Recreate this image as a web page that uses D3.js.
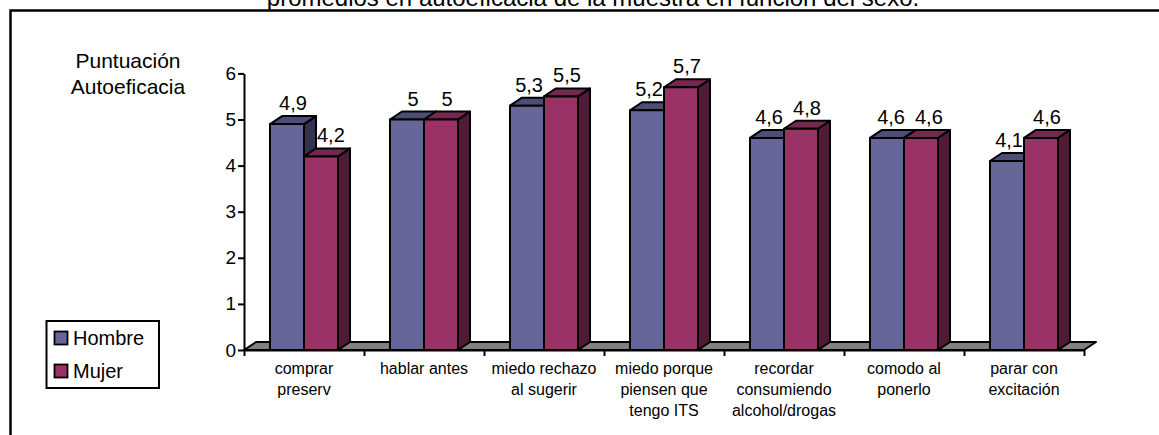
<!DOCTYPE html>
<html>
<head>
<meta charset="utf-8">
<script src="https://cdn.jsdelivr.net/npm/d3@7"></script>
<style>
  html, body { margin: 0; padding: 0; background: #fff; }
  svg { display: block; font-family: "Liberation Sans", Arial, sans-serif; }
</style>
</head>
<body>
<svg id="chart" width="1159" height="435"></svg>
<script>
// Self-efficacy scores by item and sex
const categoryLines = [
  ["comprar", "preserv"],
  ["hablar antes"],
  ["miedo rechazo", "al sugerir"],
  ["miedo porque", "piensen que", "tengo ITS"],
  ["recordar", "consumiendo", "alcohol/drogas"],
  ["comodo al", "ponerlo"],
  ["parar con", "excitación"]
];
const seriesNames = ["Hombre", "Mujer"];
const hombreValues = [4.9, 5.0, 5.3, 5.2, 4.6, 4.6, 4.1];
const mujerValues  = [4.2, 5.0, 5.5, 5.7, 4.8, 4.6, 4.6];
const yTicks = [0, 1, 2, 3, 4, 5, 6];
const titleText = "promedios en autoeficacia de la muestra en función del sexo.";
const yTitleLines = ["Puntuación", "Autoeficacia"];

const seriesValues = [hombreValues, mujerValues];
const colors = {
  Hombre: { front: "#666699", top: "#4d4d75", side: "#33334f" },
  Mujer:  { front: "#993366", top: "#74284f", side: "#4f1b36" }
};

const svg = d3.select("#chart");
const depthX = 12, depthY = -8;

// Outer frame
svg.append("rect")
  .attr("x", 10.5).attr("y", 10.5)
  .attr("width", 1170).attr("height", 450)
  .attr("fill", "none").attr("stroke", "#000").attr("stroke-width", 2.5);

// Title
svg.append("text")
  .attr("x", 593).attr("y", 6)
  .attr("text-anchor", "middle")
  .attr("font-size", 24)
  .text(titleText);

// Scales
const catIndex = d3.range(categoryLines.length);
const x0 = d3.scaleBand().domain(catIndex).range([244, 1084]).padding(0);
const bw = x0.bandwidth();
const groupW = bw * 0.5667;
const x1 = d3.scaleBand().domain(seriesNames)
  .range([(bw - groupW) / 2, (bw + groupW) / 2]).padding(0);
const xEdge = d3.scaleLinear().domain([0, categoryLines.length]).range([244, 1084]);
const y = d3.scaleLinear().domain([0, 6]).range([350, 73.4]);

// Floor
const floorPts = [
  [xEdge(0), y(0)], [xEdge(0) + depthX, y(0) + depthY],
  [xEdge(categoryLines.length) + depthX, y(0) + depthY], [xEdge(categoryLines.length), y(0)]
];
svg.append("polygon")
  .attr("points", floorPts.map(p => p.join(",")).join(" "))
  .attr("fill", "#808080").attr("stroke", "#000").attr("stroke-width", 2)
  .attr("stroke-linejoin", "round");

// Y axis
const yAxis = svg.append("g")
  .attr("transform", "translate(244,0)")
  .call(d3.axisLeft(y).tickValues(yTicks).tickFormat(d3.format("d"))
    .tickSize(6).tickSizeOuter(0).tickPadding(2));
yAxis.select(".domain").attr("stroke-width", 2);
yAxis.selectAll(".tick line").attr("stroke-width", 2);
yAxis.selectAll(".tick text").attr("font-size", 19).attr("font-family", null).attr("fill", "#000");

// X axis (category separators)
const xAxis = svg.append("g")
  .attr("transform", `translate(0,${y(0)})`)
  .call(d3.axisBottom(xEdge).tickValues(d3.range(categoryLines.length + 1))
    .tickFormat("").tickSize(6).tickSizeOuter(0));
xAxis.select(".domain").attr("stroke-width", 2);
xAxis.selectAll(".tick line").attr("stroke-width", 2);

// Bars (front, top and side faces)
const barsG = svg.append("g");
const barBoxes = [];
catIndex.forEach(ci => {
  barBoxes[ci] = {};
  seriesNames.forEach((s, si) => {
    const v = seriesValues[si][ci];
    const bx = x0(ci) + x1(s);
    const w = x1.bandwidth();
    const yt = y(v), yb = y(0);
    const c = colors[s];
    const g = barsG.append("g")
      .attr("stroke", "#000").attr("stroke-width", 2).attr("stroke-linejoin", "round");
    g.append("polygon")
      .attr("points", [[bx + w, yt], [bx + w + depthX, yt + depthY], [bx + w + depthX, yb + depthY], [bx + w, yb]].map(p => p.join(",")).join(" "))
      .attr("fill", c.side);
    g.append("polygon")
      .attr("points", [[bx, yt], [bx + depthX, yt + depthY], [bx + w + depthX, yt + depthY], [bx + w, yt]].map(p => p.join(",")).join(" "))
      .attr("fill", c.top);
    g.append("rect")
      .attr("x", bx).attr("y", yt).attr("width", w).attr("height", yb - yt)
      .attr("fill", c.front);
    barBoxes[ci][s] = { x0: bx, x1: bx + w + depthX, y0: yt + depthY };
  });
});

// Value labels, nudged sideways where they would sit on the neighbouring bar
const fmt = v => String(v).replace(".", ",");
const labelsG = svg.append("g").attr("font-size", 20).attr("text-anchor", "middle");
catIndex.forEach(ci => {
  const labs = seriesNames.map((s, si) => {
    const v = seriesValues[si][ci];
    const bx = x0(ci) + x1(s);
    const w = x1.bandwidth();
    const t = labelsG.append("text").text(fmt(v));
    const tw = t.node().getComputedTextLength();
    const base = y(v) + depthY - 6;
    return { t, tw, cx: bx + w / 2 + depthX / 2, base };
  });
  const [hl, ml] = labs;
  const hb = barBoxes[ci][seriesNames[0]], mb = barBoxes[ci][seriesNames[1]];
  if (hl.cx + hl.tw / 2 > mb.x0 && hl.base > mb.y0) hl.cx = mb.x0 - 1 - hl.tw / 2;
  if (ml.cx - ml.tw / 2 < hb.x1 && ml.base > hb.y0) ml.cx = hb.x1 + 1 + ml.tw / 2;
  const need = (hl.tw + ml.tw) / 2 + 10;
  if (ml.cx - hl.cx < need && Math.abs(ml.base - hl.base) < 16) {
    const push = (need - (ml.cx - hl.cx)) / 2;
    hl.cx -= push; ml.cx += push;
  }
  labs.forEach(l => l.t.attr("x", l.cx).attr("y", l.base));
});

// Category labels
const catG = svg.append("g").attr("font-size", 16).attr("text-anchor", "middle");
catIndex.forEach(ci => {
  const t = catG.append("text").attr("x", x0(ci) + bw / 2).attr("y", 374);
  categoryLines[ci].forEach((line, li) => {
    t.append("tspan").attr("x", x0(ci) + bw / 2).attr("y", 374 + li * 21).text(line);
  });
});

// Y axis title
const yTitle = svg.append("g").attr("font-size", 21).attr("text-anchor", "middle");
yTitleLines.forEach((line, i) => {
  yTitle.append("text").attr("x", 128).attr("y", 67.5 + i * 26).text(line);
});

// Legend
const legend = svg.append("g");
legend.append("rect")
  .attr("x", 46.5).attr("y", 321).attr("width", 112.5).attr("height", 67)
  .attr("fill", "#fff").attr("stroke", "#000").attr("stroke-width", 2);
seriesNames.forEach((s, i) => {
  legend.append("rect")
    .attr("x", 54.5).attr("y", 331.5 + i * 33).attr("width", 13).attr("height", 13)
    .attr("fill", colors[s].front).attr("stroke", "#000").attr("stroke-width", 1.8);
  legend.append("text")
    .attr("x", 73).attr("y", 345 + i * 33)
    .attr("font-size", 20).text(s);
});
</script>
</body>
</html>
